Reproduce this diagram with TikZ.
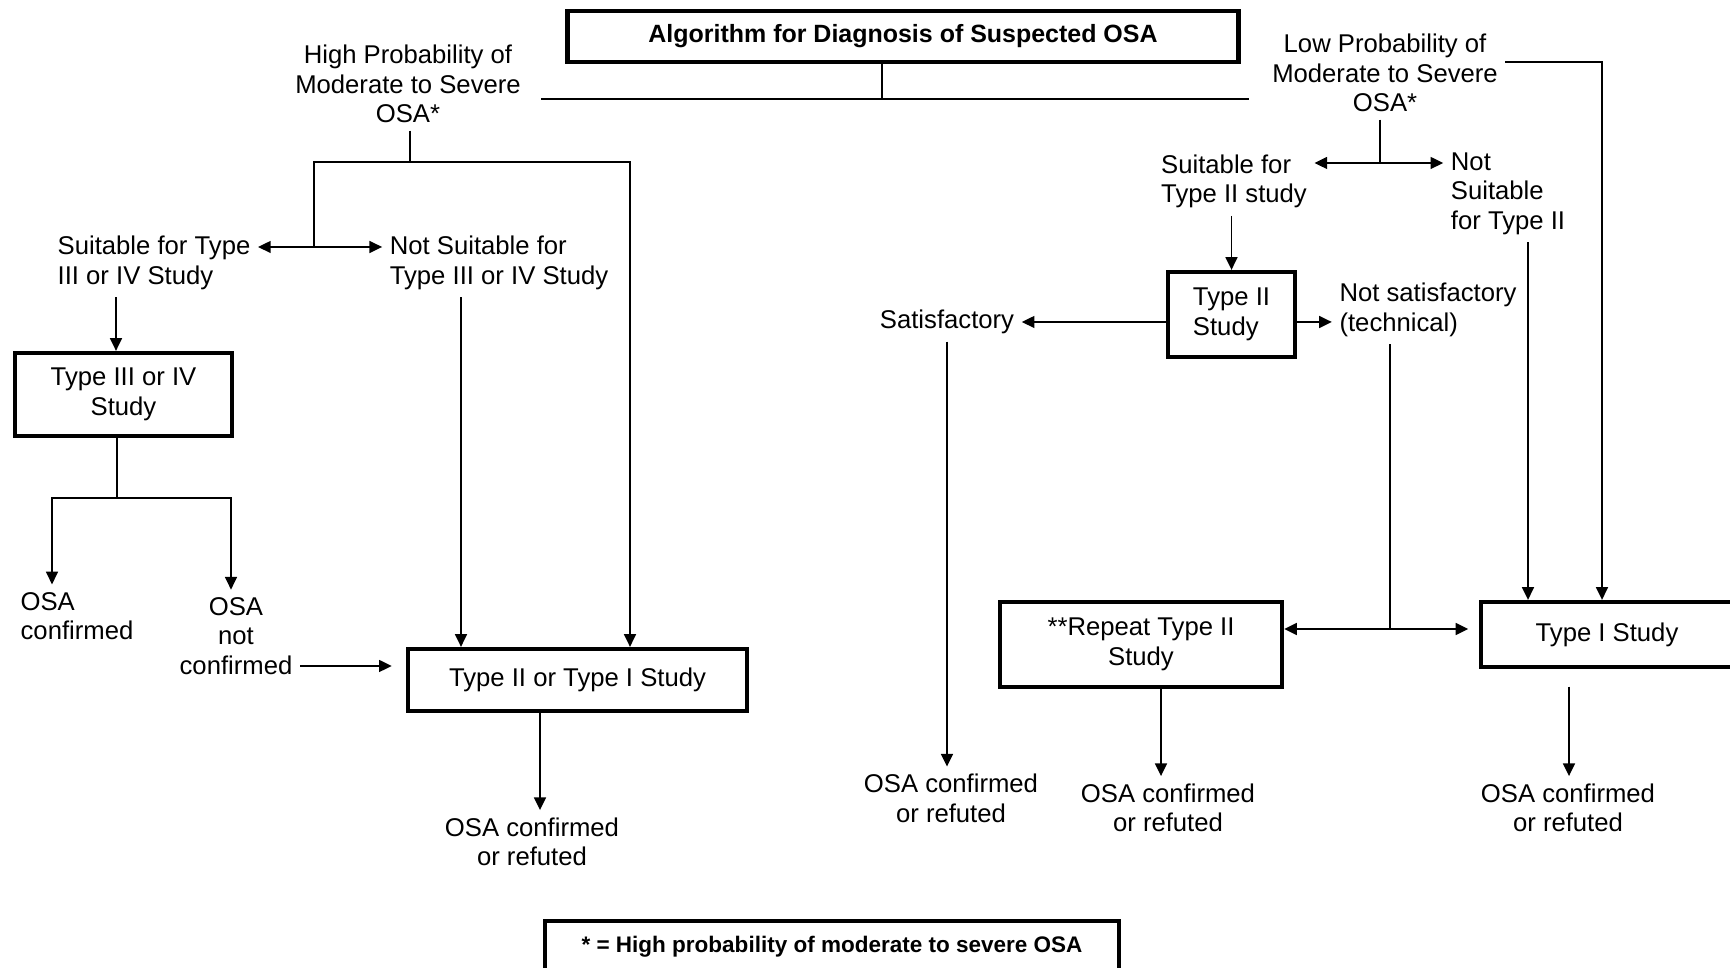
\documentclass[tikz,border=0pt]{standalone}
\usepackage{fontspec}
\setmainfont{Liberation Sans}
\usepackage{tikz}
\usetikzlibrary{arrows.meta}

\begin{document}
\begin{tikzpicture}[x=0.01cm, y=-0.01cm,
        every node/.style={font=\fontsize{7.3}{8.4}\selectfont},
        txt/.style={align=center, inner sep=2pt},
        box/.style={draw, line width=1.2pt, align=center, inner sep=1pt},
        arr/.style={-{Triangle[length=3.6pt,width=3.4pt]}, line width=0.45pt},
        ln/.style={line width=0.45pt}]
        \useasboundingbox (0, 0) rectangle (1730, 968);

        % top of the chart
        \node[box, line width=1.4pt, minimum width=6.71cm, minimum height=0.51cm, font=\fontsize{7.1}{8.4}\selectfont\bfseries] at (903, 36.5) (title) {Algorithm for Diagnosis of Suspected OSA};
        \node[txt] at (408, 84)   (highp) {High Probability of\\Moderate to Severe\\OSA*};
        \node[txt] at (1385, 73)  (lowp) {Low Probability of\\Moderate to Severe\\OSA*};
        \coordinate (j0) at (882, 99);
        \draw [ln] (title.south -| j0) -- (j0);
        \draw [ln] (541, 99) -- (1249, 99);

        % high probability branch
        \node[txt, align=left] at (154, 263)  (suit34) {Suitable for Type\\III or IV Study};
        \node[txt, align=left] at (499, 263)  (notsuit34) {Not Suitable for\\Type III or IV Study};
        \node[box, minimum width=2.17cm, minimum height=0.83cm] at (123.5, 394.5) (t34) {Type III or IV\\Study};
        \node[txt, align=left] at (77, 616)   (osac) {OSA\\confirmed};
        \node[txt] at (236, 636)  (osanc) {OSA\\not\\confirmed};
        \node[box, minimum width=3.39cm, minimum height=0.62cm] at (577.5, 680) (t21) {Type II or Type I Study};
        \node[txt] at (532, 842)  (res1) {OSA confirmed\\or refuted};

        \coordinate (hj) at (410, 162);
        \coordinate (hb) at (314, 247);
        \coordinate (hr) at (630, 162);
        \draw [ln] (highp.south -| hj) -- (hj);
        \draw [arr] (hb) |- (hr) -- (t21.north -| hr);
        \draw [arr] (hb) -- (suit34.east |- hb);
        \draw [arr] (hb) -- (notsuit34.west |- hb);
        \draw [arr] (suit34.south -| 116, 0) -- (t34.north -| 116, 0);
        \draw [ln] (t34.south -| 117, 0) -- (117, 498) coordinate (tj);
        \draw [arr] (tj) -| (osac.north -| 52, 0);
        \draw [arr] (tj) -| (osanc.north -| 231, 0);
        \draw [arr] (osanc.east |- 0, 666) -- ([xshift=-4pt]t21.west |- 0, 666);
        \draw [arr] (notsuit34.south -| 461, 0) -- (t21.north -| 461, 0);
        \draw [arr] (t21.south -| 540, 0) -- (res1.north -| 540, 0);

        % low probability branch
        \node[txt, align=left] at (1234, 181.5) (suit2) {Suitable for\\Type II study};
        \node[txt, align=left] at (1508, 193.5) (notsuit2) {Not\\Suitable\\for Type II};
        \node[box, minimum width=1.27cm, minimum height=0.85cm, align=left] at (1231.5, 314.5) (t2) {Type II\\Study};
        \node[txt] at (947, 322)   (satis) {Satisfactory};
        \node[txt, align=left] at (1428, 310) (notsat) {Not satisfactory\\(technical)};
        \node[box, minimum width=2.82cm, minimum height=0.85cm] at (1141, 644.5) (rep) {**Repeat Type II\\Study};
        \node[box, minimum width=2.52cm, minimum height=0.65cm] at (1607, 634.5) (t1) {Type I Study};
        \node[txt] at (951, 798.5)  (res2) {OSA confirmed\\or refuted};
        \node[txt] at (1168, 808)   (res3) {OSA confirmed\\or refuted};
        \node[txt] at (1568, 808)   (res4) {OSA confirmed\\or refuted};

        \coordinate (lj) at (1380, 163);
        \coordinate (nj) at (1390, 629);
        \draw [ln] (lowp.south -| lj) -- (lj);
        \draw [arr] (lj) -- (suit2.east |- lj);
        \draw [arr] (lj) -- (notsuit2.west |- lj);
        \draw [arr] (lowp.east |- 0, 62) -| (t1.north -| 1602, 0);
        \draw [arr] (suit2.south -| t2.north) -- (t2.north);
        \draw [arr] (t2.west |- satis) -- (satis.east);
        \draw [arr] (t2.east |- satis) -- (notsat.west |- satis);
        \draw [ln] (notsat.south -| nj) -- (nj);
        \draw [arr] (nj) -- (rep.east |- nj);
        \draw [arr] (nj) -- ([xshift=-3pt]t1.west |- nj);
        \draw [arr] (notsuit2.south -| 1528, 0) -- (t1.north -| 1528, 0);
        \draw [arr] (satis.south) -- (res2.north -| satis);
        \draw [arr] (rep.south -| 1161, 0) -- (res3.north -| 1161, 0);
        \draw [arr] ([yshift=-5pt]t1.south -| 1569, 0) -- (res4.north -| 1569, 0);

        % footnote
        \node[box, minimum width=5.74cm, minimum height=0.52cm, font=\fontsize{6.4}{8}\selectfont\bfseries] at (832, 947) (note) {* = High probability of moderate to severe OSA};
    \end{tikzpicture}
\end{document}
